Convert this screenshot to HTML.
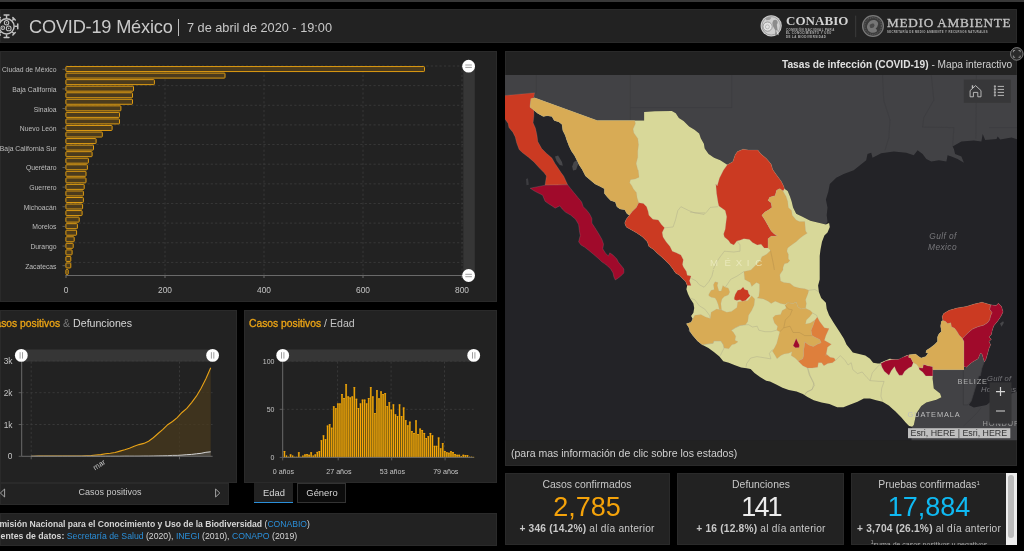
<!DOCTYPE html>
<html><head><meta charset="utf-8"><title>COVID-19 México</title>
<style>
*{box-sizing:border-box;margin:0;padding:0}
html,body{width:1024px;height:551px;background:#000;overflow:hidden;font-family:"Liberation Sans", sans-serif;color:#ccc}
.abs{position:absolute}
.panel{position:absolute;background:#222222;border:1px solid #2a2a2a}
svg{position:absolute;left:0;top:0;overflow:visible;will-change:transform}
svg text{font-family:"Liberation Sans", sans-serif}
.t{position:absolute;white-space:nowrap;line-height:1;will-change:transform}
a{color:#2b8fd9;text-decoration:none}
</style></head><body>
<div class="abs" style="left:0;top:0;width:1024px;height:1.9px;background:#383838"></div>
<!-- header -->
<div class="panel" style="left:0;top:9px;width:1017px;height:34px"></div>
<div class="t" id="title" style="left:28.6px;top:18.2px;font-size:18.2px;color:#cacaca;letter-spacing:-0.2px">COVID-19 México</div>
<div class="abs" style="left:178px;top:19px;width:1.3px;height:17px;background:#bdbdbd"></div>
<div class="t" id="date" style="left:186.5px;top:22.4px;font-size:12.73px;color:#c8c8c8">7 de abril de 2020 - 19:00</div>
<svg width="1024" height="551" viewBox="0 0 1024 551">
<circle cx="6.55" cy="26.3" r="7.6" fill="none" stroke="#c2c2c2" stroke-width="1.5"/>
<line x1="14.65" y1="26.30" x2="17.75" y2="26.30" stroke="#c2c2c2" stroke-width="1.45"/>
<line x1="17.75" y1="28.70" x2="17.75" y2="23.90" stroke="#c2c2c2" stroke-width="1.5" stroke-linecap="round"/>
<line x1="12.28" y1="32.03" x2="14.05" y2="33.80" stroke="#c2c2c2" stroke-width="1.45"/>
<line x1="12.84" y1="35.00" x2="15.25" y2="32.59" stroke="#c2c2c2" stroke-width="1.5" stroke-linecap="round"/>
<line x1="6.55" y1="34.40" x2="6.55" y2="37.50" stroke="#c2c2c2" stroke-width="1.45"/>
<line x1="4.15" y1="37.50" x2="8.95" y2="37.50" stroke="#c2c2c2" stroke-width="1.5" stroke-linecap="round"/>
<line x1="0.82" y1="32.03" x2="-0.95" y2="33.80" stroke="#c2c2c2" stroke-width="1.45"/>
<line x1="-2.15" y1="32.59" x2="0.26" y2="35.00" stroke="#c2c2c2" stroke-width="1.5" stroke-linecap="round"/>
<line x1="-1.55" y1="26.30" x2="-4.65" y2="26.30" stroke="#c2c2c2" stroke-width="1.45"/>
<line x1="-4.65" y1="23.90" x2="-4.65" y2="28.70" stroke="#c2c2c2" stroke-width="1.5" stroke-linecap="round"/>
<line x1="0.82" y1="20.57" x2="-0.95" y2="18.80" stroke="#c2c2c2" stroke-width="1.45"/>
<line x1="0.26" y1="17.60" x2="-2.15" y2="20.01" stroke="#c2c2c2" stroke-width="1.5" stroke-linecap="round"/>
<line x1="6.55" y1="18.20" x2="6.55" y2="15.10" stroke="#c2c2c2" stroke-width="1.45"/>
<line x1="8.95" y1="15.10" x2="4.15" y2="15.10" stroke="#c2c2c2" stroke-width="1.5" stroke-linecap="round"/>
<line x1="12.28" y1="20.57" x2="14.05" y2="18.80" stroke="#c2c2c2" stroke-width="1.45"/>
<line x1="15.25" y1="20.01" x2="12.84" y2="17.60" stroke="#c2c2c2" stroke-width="1.5" stroke-linecap="round"/>
<circle cx="6.55" cy="22.8" r="2.2" fill="none" stroke="#c2c2c2" stroke-width="1.05"/><circle cx="6.55" cy="22.8" r="0.7" fill="#aaa"/>
<circle cx="8.7" cy="28.4" r="2.4" fill="none" stroke="#c2c2c2" stroke-width="1.05"/><circle cx="8.7" cy="28.4" r="0.8" fill="#aaa"/>
<circle cx="2.8" cy="27.7" r="1.8" fill="none" stroke="#c2c2c2" stroke-width="1.05"/><circle cx="2.8" cy="27.7" r="0.6" fill="#aaa"/>
<circle cx="771.2" cy="25.8" r="10.6" fill="#cfcfcf"/>
<circle cx="771.2" cy="25.8" r="9.2" fill="none" stroke="#8d8d8d" stroke-width="0.7"/>
<circle cx="767.6" cy="26.6" r="4.6" fill="#e3e3e3" stroke="#8a8a8a" stroke-width="0.8"/>
<circle cx="767.4" cy="26.8" r="2" fill="none" stroke="#9a9a9a" stroke-width="0.6"/>
<path d="M773.2,20.4 q2.6,-1.6 4.2,0.6 q0.9,2.2 -0.6,3.6 l0.8,5.6 l-1.2,5.2 l-1.4,0.2 l0.4,-5 l-2.4,-4.4 q-1.6,-3.2 0.2,-5.8z" fill="#8c8c8c"/>
<path d="M765.5,18.3 l3.2,-1.4 l2.8,0.6 l-1.6,2.2 l-3.4,0.6z" fill="#999"/>
<path d="M776.6,30.5 l1.6,4.6" stroke="#e8e8e8" stroke-width="0.9"/>
<line x1="855.7" y1="15.6" x2="855.7" y2="37.2" stroke="#3c3c3c" stroke-width="1"/>
<circle cx="873" cy="26" r="10.4" fill="#3a3a3a" stroke="#7a7a7a" stroke-width="1.3"/>
<circle cx="873" cy="26" r="8.4" fill="none" stroke="#5a5a5a" stroke-width="1.2" stroke-dasharray="1.1,0.8"/>
<path d="M868,23.5 q2.4,-4 6.6,-3.4 q3.4,0.8 3.6,4 q-0.4,3 -2.6,4.4 q1.8,1.2 1.4,2.8 q-2.8,2.2 -6.2,1.2 q-3.2,-1.4 -3.8,-4.4 q-0.2,-2.6 1,-4.6z" fill="#767676"/>
<path d="M869.6,25 q2,-2.2 4.4,-1.2 q1.2,1.8 -0.2,3.4 q-2,1.4 -3.8,0.2z" fill="#4a4a4a"/>
</svg>
<div class="t" id="conabio" style="left:785.6px;top:13.6px;font-family:'Liberation Serif', serif;font-weight:bold;font-size:13px;color:#d2d2d2;letter-spacing:0.06px">CONABIO</div>
<div class="t" style="left:785.8px;top:29.1px;font-size:2.9px;font-weight:bold;color:#b5b5b5;letter-spacing:0.42px">COMISIÓN NACIONAL PARA</div>
<div class="t" style="left:785.8px;top:32.300000000000004px;font-size:2.9px;font-weight:bold;color:#b5b5b5;letter-spacing:0.42px">EL CONOCIMIENTO Y USO</div>
<div class="t" style="left:785.8px;top:35.5px;font-size:2.9px;font-weight:bold;color:#b5b5b5;letter-spacing:0.42px">DE LA BIODIVERSIDAD</div>
<div class="t" id="medio" style="left:886.8px;top:15.9px;font-family:'Liberation Serif', serif;font-size:13.2px;color:#c4c4c4;letter-spacing:0.75px;-webkit-text-stroke:0.3px #c4c4c4">MEDIO AMBIENTE</div>
<div class="t" id="medsub" style="left:887px;top:32.4px;font-size:2.75px;font-weight:bold;color:#b0b0b0;letter-spacing:0.36px">SECRETARÍA DE MEDIO AMBIENTE Y RECURSOS NATURALES</div>
<!-- bar panel -->
<div class="panel" style="left:0;top:51px;width:497px;height:251px"></div>
<!-- line panel -->
<div class="panel" style="left:0;top:310px;width:237px;height:173px"></div>
<div class="panel" style="left:0;top:483px;width:228.5px;height:22.3px"></div>
<!-- age panel -->
<div class="panel" style="left:244px;top:310px;width:253.4px;height:172.5px"></div>
<!-- footer panel -->
<div class="panel" style="left:0;top:513px;width:497px;height:32.6px"></div>
<!-- map panel -->
<div class="panel" style="left:505px;top:51px;width:512px;height:414.7px"></div>
<!-- cards -->
<div class="panel" style="left:504.6px;top:473.2px;width:165.3px;height:72.2px"></div>
<div class="panel" style="left:677.3px;top:473.2px;width:166.4px;height:72.2px"></div>
<div class="panel" style="left:851.2px;top:473.2px;width:165.8px;height:72.2px"></div>
<svg width="1024" height="551" viewBox="0 0 1024 551">
<defs><clipPath id="mapclip"><rect x="505" y="75" width="512" height="365.3"/></clipPath></defs>
<g clip-path="url(#mapclip)">
<rect x="505" y="75" width="512" height="366" fill="#232327"/>
<path d="M500.0,70.0 L500.0,95.5 L505.0,95.5 L534.7,92.8 L533.9,97.0 L530.8,98.6 L530.8,98.6 L534.7,97.8 L597.2,120.5 L634.7,120.5 L644.1,120.5 L644.1,111.9 L654.7,111.2 L671.9,110.9 L675.8,113.3 L678.9,118.0 L683.6,121.1 L689.1,126.6 L694.5,129.7 L699.2,133.6 L700.8,138.3 L703.9,143.8 L704.7,148.4 L708.6,153.9 L714.1,157.8 L720.3,160.2 L727.3,164.8 L732.8,161.7 L735.2,154.7 L737.5,151.6 L743.0,149.2 L748.4,150.0 L757.8,150.0 L760.9,153.9 L766.4,158.6 L771.1,164.1 L772.7,169.5 L776.6,175.0 L781.2,181.2 L783.6,185.9 L784.5,188.7 L787.7,191.0 L790.0,196.5 L791.6,201.2 L793.1,207.4 L796.2,213.7 L802.5,216.8 L810.3,220.7 L819.7,223.1 L825.9,224.6 L827.5,221.5 L826.7,215.2 L827.5,207.4 L825.9,199.6 L828.3,191.8 L829.8,184.0 L832.4,181.5 L836.2,177.7 L843.7,173.9 L853.7,170.2 L866.2,160.2 L867.5,153.9 L871.2,152.7 L872.5,157.7 L881.2,153.2 L893.8,151.4 L906.3,152.7 L913.8,155.2 L917.6,150.2 L922.6,153.9 L926.3,158.9 L931.3,161.4 L938.9,160.2 L946.4,161.4 L947.6,155.2 L951.4,156.4 L957.6,158.9 L963.9,162.7 L961.4,156.4 L955.1,153.9 L953.9,148.9 L952.6,146.4 L961.4,141.4 L973.9,140.6 L981.4,141.4 L982.7,133.9 L985.2,140.1 L996.5,138.9 L997.7,136.4 L1000.2,139.6 L1011.5,137.6 L1021.5,140.6 L1021.5,70.0Z" fill="#424245" />
<path d="M536.3,75.0 L536.3,93.8" stroke="#3b3b3e" stroke-width="0.6" fill="none"/>
<path d="M630.3,75.0 L630.3,120.6" stroke="#3b3b3e" stroke-width="0.6" fill="none"/>
<path d="M630.3,107.6 L731.7,107.6 L731.7,75.0" stroke="#3b3b3e" stroke-width="0.6" fill="none"/>
<path d="M882.5,75.0 L883.7,100.1 L890.0,120.1 L888.8,137.6 L885.0,150.2" stroke="#3b3b3e" stroke-width="0.6" fill="none"/>
<path d="M931.3,75.0 L933.8,100.1 L923.8,117.6 L922.6,127.1 L953.9,127.6 L952.6,146.4" stroke="#3b3b3e" stroke-width="0.6" fill="none"/>
<path d="M976.4,75.0 L975.9,138.9" stroke="#3b3b3e" stroke-width="0.6" fill="none"/>
<path d="M989.0,127.6 L1017.0,127.6" stroke="#3b3b3e" stroke-width="0.6" fill="none"/>
<path d="M932.8,369.7 L964.0,369.7 L966.4,367.3 L968.7,365.0 L972.6,361.9 L978.1,358.8 L980.4,353.3 L982.0,354.1 L984.3,361.9 L982.0,368.1 L980.4,375.9 L978.9,376.1 L975.2,388.6 L971.4,401.1 L968.9,404.9 L973.9,407.4 L986.5,404.9 L991.5,401.1 L1021.5,389.8 L1021.5,442.4 L911.3,442.4 L912.1,426.7 L913.8,424.9 L916.3,413.6 L921.3,406.1 L926.3,402.4 L936.4,399.8 L941.4,397.3 L940.1,393.6 L933.8,388.6 L932.6,378.6Z" fill="#424245" />
<path d="M964.0,369.7 L966.4,367.3 L968.7,365.0 L972.6,361.9 L978.1,358.8 L980.4,353.3 L982.0,354.1 L984.3,361.9 L982.0,368.1 L980.4,375.9 L978.9,376.1 L975.2,388.6 L971.4,401.1 L967.7,404.9 L963.4,404.9 L963.4,369.0Z" fill="#444447" stroke="#38383b" stroke-width="0.6" stroke-linejoin="round" />
<path d="M963.4,426.2 L976.4,413.6 L981.4,407.4" stroke="#3b3b3e" stroke-width="0.6" fill="none"/>
<path d="M530.8,98.6 L534.7,97.8 L597.2,120.5 L634.7,120.5 L644.1,120.5 L644.1,111.9 L654.7,111.2 L671.9,110.9 L675.8,113.3 L678.9,118.0 L683.6,121.1 L689.1,126.6 L694.5,129.7 L699.2,133.6 L700.8,138.3 L703.9,143.8 L704.7,148.4 L708.6,153.9 L714.1,157.8 L720.3,160.2 L727.3,164.8 L732.8,161.7 L735.2,154.7 L737.5,151.6 L743.0,149.2 L748.4,150.0 L757.8,150.0 L760.9,153.9 L766.4,158.6 L771.1,164.1 L772.7,169.5 L776.6,175.0 L781.2,181.2 L783.6,185.9 L784.5,188.7 L787.7,191.0 L790.0,196.5 L791.6,201.2 L793.1,207.4 L796.2,213.7 L802.5,216.8 L810.3,220.7 L819.7,223.1 L825.9,224.6 L829.1,223.1 L829.8,227.0 L827.5,232.4 L824.4,235.6 L822.0,241.8 L820.5,249.6 L819.7,255.9 L819.7,269.9 L819.7,279.4 L818.1,285.6 L818.9,291.9 L821.2,298.1 L825.9,302.8 L826.7,309.1 L829.1,315.3 L833.8,323.1 L840.0,332.5 L843.9,338.8 L846.6,344.7 L849.7,348.6 L852.8,352.5 L859.1,354.1 L865.3,355.6 L870.0,358.8 L873.1,362.7 L877.8,363.4 L880.9,363.4 L880.4,362.7 L884.3,361.1 L889.8,358.8 L895.3,359.5 L899.2,359.5 L903.1,357.2 L906.2,355.6 L909.3,354.8 L915.6,354.1 L918.7,356.4 L921.1,358.0 L925.8,356.4 L928.1,353.3 L925.8,352.5 L926.5,350.2 L930.4,347.8 L934.3,344.7 L937.5,341.6 L937.5,336.9 L939.0,333.8 L941.4,331.4 L940.6,325.9 L941.4,321.2 L942.9,320.5 L942.2,316.6 L943.7,313.4 L949.2,310.3 L957.0,308.0 L966.4,306.4 L974.2,304.1 L982.0,302.2 L990.6,304.8 L996.1,305.6 L998.4,303.3 L1001.5,306.4 L1003.1,311.9 L1000.8,316.6 L997.6,321.2 L993.7,325.9 L992.2,330.6 L991.4,334.5 L989.0,336.9 L991.4,339.2 L989.0,341.6 L990.6,344.7 L989.0,348.6 L987.5,354.1 L985.9,359.5 L984.3,361.9 L982.0,354.1 L980.4,353.3 L978.1,358.8 L972.6,361.9 L968.7,365.0 L966.4,367.3 L964.0,366.6 L964.0,369.7 L932.8,369.7 L932.8,375.9 L932.6,378.6 L933.8,388.6 L940.1,393.6 L941.4,397.3 L936.4,399.8 L926.3,402.4 L921.3,406.1 L916.3,413.6 L913.8,424.9 L912.1,426.7 L909.1,425.9 L905.9,422.8 L901.2,417.3 L895.0,411.1 L888.8,405.6 L882.5,401.7 L876.2,400.2 L870.0,398.6 L863.8,398.6 L857.5,401.7 L849.7,404.8 L843.4,407.2 L837.2,407.2 L829.4,404.1 L821.6,402.5 L813.8,400.2 L807.5,397.0 L802.8,393.9 L796.6,391.6 L788.8,390.0 L782.5,387.7 L776.2,384.5 L770.0,381.4 L766.2,380.8 L760.0,376.9 L754.5,373.0 L750.6,369.1 L746.7,368.3 L741.2,367.5 L735.0,365.2 L728.8,362.8 L723.3,361.2 L719.4,356.6 L713.9,351.9 L708.4,348.0 L702.2,344.8 L697.5,340.9 L692.8,335.5 L688.9,330.0 L690.3,332.3 L688.8,327.6 L686.4,323.7 L691.1,322.2 L692.7,319.0 L691.1,315.9 L693.4,312.8 L694.2,308.1 L693.4,303.4 L690.3,298.7 L688.0,294.0 L686.4,289.3 L687.2,285.4 L685.6,281.5 L682.5,278.4 L679.4,275.3 L675.5,272.9 L672.3,268.2 L669.2,264.3 L666.9,262.0 L665.3,260.6 L661.4,256.7 L656.7,252.8 L653.6,249.6 L648.9,246.5 L647.3,241.8 L642.7,237.1 L637.2,233.2 L633.3,230.9 L630.2,229.3 L626.2,227.0 L624.7,223.1 L626.2,219.2 L629.4,215.2 L627.0,213.7 L624.7,209.8 L620.0,209.0 L616.9,206.7 L615.3,202.0 L610.6,200.4 L607.5,197.3 L604.4,193.4 L604.4,188.7 L599.7,186.3 L595.0,184.0 L585.5,175.9 L582.3,169.7 L579.2,165.0 L576.9,160.3 L574.5,155.6 L571.4,150.9 L569.1,146.2 L566.7,140.0 L565.2,135.3 L562.8,130.6 L562.0,124.4 L558.9,122.0 L554.2,120.5 L551.9,116.6 L547.2,115.8 L543.3,116.6 L537.8,113.4 L533.9,110.3 L530.0,107.2Z" fill="#d8d899" />
<path d="M690.0,212.1 L696.2,212.9 L704.1,214.5 L707.2,211.3 L710.3,207.4 L718.1,206.7" stroke="#a9a78a" stroke-width="0.55" fill="none" stroke-opacity="0.75"/>
<path d="M664.5,227.8 L673.1,227.0 L675.5,219.9 L677.8,210.6 L680.9,206.7 L688.8,210.6 L695.0,212.9 L705.0,212.9" stroke="#a9a78a" stroke-width="0.55" fill="none" stroke-opacity="0.75"/>
<path d="M736.9,241.0 L740.0,244.9 L740.0,251.2 L733.8,252.0 L724.4,251.2 L719.7,257.4 L716.6,262.1 L713.4,269.2" stroke="#a9a78a" stroke-width="0.55" fill="none" stroke-opacity="0.75"/>
<path d="M713.4,270.0 L711.9,276.2 L708.8,281.7 L704.1,287.2 L699.4,284.8 L696.2,280.9 L691.6,278.6" stroke="#a9a78a" stroke-width="0.55" fill="none" stroke-opacity="0.75"/>
<path d="M710.3,318.4 L709.5,315.3 L704.8,309.1 L699.4,305.9 L694.7,299.7 L690.0,298.1" stroke="#a9a78a" stroke-width="0.55" fill="none" stroke-opacity="0.75"/>
<path d="M743.9,271.6 L736.9,276.2 L730.6,279.4 L727.5,284.1 L725.2,287.2" stroke="#a9a78a" stroke-width="0.55" fill="none" stroke-opacity="0.75"/>
<path d="M807.5,368.1 L809.1,374.4 L812.2,380.6 L814.5,385.3 L811.4,390.0 L806.7,392.3 L805.2,394.7" stroke="#a9a78a" stroke-width="0.55" fill="none" stroke-opacity="0.75"/>
<path d="M835.6,360.3 L840.3,355.6 L845.0,360.3 L848.1,365.0 L851.2,362.7 L852.8,369.7 L857.5,373.6 L862.2,372.0 L866.9,377.5 L870.0,380.6 L879.4,381.4 L884.1,381.4 L881.7,388.4 L880.9,396.2 L882.5,400.9" stroke="#a9a78a" stroke-width="0.55" fill="none" stroke-opacity="0.75"/>
<path d="M870.0,380.6 L872.3,372.8 L876.2,368.1 L879.4,365.0 L881.7,365.8" stroke="#a9a78a" stroke-width="0.55" fill="none" stroke-opacity="0.75"/>
<path d="M745.9,367.5 L746.7,363.6 L750.6,358.1 L756.9,356.6 L766.2,358.1 L770.9,358.9 L769.4,353.4 L772.5,349.5" stroke="#a9a78a" stroke-width="0.55" fill="none" stroke-opacity="0.75"/>
<path d="M807.7,367.5 L810.0,375.3 L813.9,383.1 L812.3,389.4 L806.9,391.7 L804.5,394.8" stroke="#a9a78a" stroke-width="0.55" fill="none" stroke-opacity="0.75"/>
<path d="M702.2,344.8 L706.9,344.1 L713.1,343.3 L713.9,340.9 L720.9,340.9 L723.3,344.8 L724.1,348.0 L722.5,351.1 L720.2,355.8" stroke="#a9a78a" stroke-width="0.55" fill="none" stroke-opacity="0.75"/>
<path d="M731.4,330.2 L735.3,327.8 L740.0,325.5 L745.5,324.7 L748.6,324.7 L752.5,327.0 L757.2,326.2 L758.8,330.2 L765.0,331.7 L771.2,331.7 L776.7,330.2" stroke="#a9a78a" stroke-width="0.55" fill="none" stroke-opacity="0.75"/>
<path d="M808.8,290.3 L815.0,289.5 L818.9,291.9" stroke="#a9a78a" stroke-width="0.55" fill="none" stroke-opacity="0.75"/>
<path d="M812.7,313.0 L816.6,315.3 L817.3,316.9" stroke="#a9a78a" stroke-width="0.55" fill="none" stroke-opacity="0.75"/>
<path d="M500.0,95.5 L505.0,95.5 L534.7,92.8 L533.9,97.0 L530.8,100.9 L530.0,107.2 L533.9,110.3 L533.9,115.8 L533.1,122.8 L535.5,128.3 L537.0,135.3 L537.8,141.6 L541.7,148.6 L546.4,153.3 L551.9,158.0 L555.0,163.4 L558.1,168.1 L561.2,172.8 L563.6,175.9 L567.7,184.8 L545.0,185.2 L546.4,175.9 L544.1,172.8 L539.4,168.1 L533.9,161.9 L528.4,157.2 L522.2,152.5 L519.1,149.4 L516.7,143.1 L515.2,136.9 L512.8,132.2 L508.9,127.5 L508.1,123.6 L505.0,118.9 L500.0,118.0Z" fill="#cb3a22" stroke="#aab0b0" stroke-opacity="0.38" stroke-width="0.5" stroke-linejoin="round" />
<path d="M545.0,185.2 L567.7,184.8 L570.8,188.7 L573.9,192.6 L577.8,197.3 L581.7,202.0 L583.3,206.7 L586.4,209.8 L589.5,213.7 L591.9,218.4 L591.9,223.1 L595.0,227.8 L598.9,234.0 L602.0,239.5 L603.6,244.2 L602.8,248.8 L605.2,252.8 L608.3,255.9 L609.8,252.8 L613.0,255.1 L616.9,259.0 L618.4,262.1 L621.6,266.0 L621.6,265.9 L623.9,269.0 L623.9,272.9 L620.8,276.1 L617.7,278.4 L615.3,280.0 L613.8,276.8 L613.0,272.9 L610.6,269.0 L607.5,265.9 L604.4,263.6 L602.0,262.0 L598.9,259.0 L593.4,254.3 L588.8,250.4 L584.8,247.3 L580.9,244.9 L578.6,241.8 L580.2,235.6 L579.4,230.9 L578.6,224.6 L575.5,219.2 L570.8,215.2 L565.3,212.1 L562.2,209.0 L559.8,205.9 L555.2,208.2 L552.0,205.9 L548.1,203.5 L545.0,201.2 L542.6,195.2 L535.1,191.5 L530.1,188.2Z" fill="#a00a2b" stroke="#aab0b0" stroke-opacity="0.38" stroke-width="0.5" stroke-linejoin="round" />
<path d="M555.0,156.4 L558.1,155.6 L562.0,161.9 L562.8,165.8 L559.7,165.0 L556.6,161.1Z" fill="#47474a" />
<path d="M573.8,161.9 L576.9,160.3 L578.1,164.2 L576.1,169.7 L573.0,170.5 L572.2,166.6Z" fill="#47474a" />
<path d="M526.0,179.0 L528.0,178.2 L528.8,184.7 L526.5,185.2Z" fill="#3c3c40" />
<path d="M530.8,98.6 L534.7,97.8 L597.2,120.5 L634.7,120.5 L635.5,123.6 L633.1,129.1 L633.9,133.0 L637.8,138.4 L638.6,144.7 L637.8,150.9 L637.8,157.2 L636.2,163.4 L637.8,169.7 L638.3,170.3 L639.1,177.3 L635.2,178.9 L630.5,179.7 L629.7,182.8 L632.0,185.9 L633.3,188.7 L636.4,192.6 L637.2,198.1 L638.8,202.8 L636.4,207.4 L632.5,211.3 L629.4,215.2 L627.0,213.7 L624.7,209.8 L620.0,209.0 L616.9,206.7 L615.3,202.0 L610.6,200.4 L607.5,197.3 L604.4,193.4 L604.4,188.7 L599.7,186.3 L595.0,184.0 L585.5,175.9 L582.3,169.7 L579.2,165.0 L576.9,160.3 L574.5,155.6 L571.4,150.9 L569.1,146.2 L566.7,140.0 L565.2,135.3 L562.8,130.6 L562.0,124.4 L558.9,122.0 L554.2,120.5 L551.9,116.6 L547.2,115.8 L543.3,116.6 L537.8,113.4 L533.9,110.3 L530.0,107.2Z" fill="#d8ab55" stroke="#aab0b0" stroke-opacity="0.38" stroke-width="0.5" stroke-linejoin="round" />
<path d="M638.8,202.8 L643.4,203.5 L646.6,206.7 L648.1,211.3 L648.9,215.2 L652.8,219.2 L658.3,219.9 L661.4,224.6 L664.5,227.8 L662.2,232.4 L663.0,237.1 L666.1,241.8 L670.0,246.5 L672.3,251.2 L676.2,252.8 L680.9,255.1 L683.3,259.8 L682.5,264.5 L683.3,266.7 L686.4,271.4 L687.2,275.3 L691.1,276.1 L689.5,280.8 L691.1,285.4 L687.2,285.4 L685.6,281.5 L682.5,278.4 L679.4,275.3 L675.5,272.9 L672.3,268.2 L669.2,264.3 L666.9,262.0 L665.3,260.6 L661.4,256.7 L656.7,252.8 L653.6,249.6 L648.9,246.5 L647.3,241.8 L642.7,237.1 L637.2,233.2 L633.3,230.9 L630.2,229.3 L626.2,227.0 L624.7,223.1 L626.2,219.2 L629.4,215.2 L632.5,211.3 L636.4,207.4Z" fill="#cb3a22" stroke="#aab0b0" stroke-opacity="0.38" stroke-width="0.5" stroke-linejoin="round" />
<path d="M727.3,164.8 L732.8,161.7 L735.2,154.7 L737.5,151.6 L743.0,149.2 L748.4,150.0 L757.8,150.0 L760.9,153.9 L766.4,158.6 L771.1,164.1 L772.7,169.5 L776.6,175.0 L781.2,181.2 L783.6,185.9 L784.5,188.7 L783.0,191.0 L779.8,188.7 L776.7,190.2 L775.2,195.7 L769.7,197.3 L768.1,200.4 L771.2,202.8 L772.0,207.4 L768.9,209.8 L765.0,212.1 L761.9,215.2 L765.0,219.9 L768.1,225.4 L771.2,230.9 L774.4,234.0 L777.5,235.6 L774.4,236.3 L771.2,236.3 L768.1,238.7 L768.1,248.1 L764.2,248.1 L761.1,244.2 L757.2,244.9 L752.5,242.6 L749.4,239.5 L743.9,238.7 L740.0,240.2 L736.9,241.0 L733.8,244.9 L730.6,243.4 L728.3,240.2 L724.4,237.1 L723.6,234.0 L725.2,229.3 L725.9,223.1 L726.7,216.8 L725.2,210.6 L718.9,205.9 L718.1,202.8 L716.6,193.4 L715.8,184.0 L717.2,185.9 L719.5,178.1 L723.4,170.3Z" fill="#cb3a22" stroke="#aab0b0" stroke-opacity="0.38" stroke-width="0.5" stroke-linejoin="round" />
<path d="M776.7,190.2 L779.8,188.7 L783.0,191.0 L786.1,196.5 L787.7,201.2 L788.4,207.4 L791.6,210.6 L792.3,215.2 L796.2,219.9 L799.4,221.5 L804.8,221.5 L805.6,230.9 L807.2,233.2 L802.5,236.3 L799.4,238.7 L796.2,241.8 L791.6,244.9 L787.7,248.1 L786.9,251.2 L788.4,254.3 L788.4,259.0 L790.0,260.6 L787.7,262.9 L784.5,263.7 L783.0,267.6 L783.0,269.9 L779.8,274.7 L780.6,280.9 L783.8,282.5 L790.0,283.3 L793.9,286.4 L799.4,288.0 L804.8,288.8 L808.8,290.3 L808.0,293.4 L805.6,299.7 L806.4,303.6 L805.6,308.3 L800.9,309.1 L797.8,306.7 L796.2,302.0 L793.1,303.6 L787.7,302.8 L785.3,304.4 L780.6,303.6 L775.2,301.2 L771.2,303.6 L768.1,301.2 L763.4,298.9 L757.2,298.1 L758.8,296.6 L759.5,290.3 L759.5,284.1 L756.4,282.5 L751.7,286.4 L750.2,282.5 L744.7,279.4 L743.9,271.6 L750.9,269.9 L755.6,265.2 L760.3,260.6 L761.9,256.7 L766.6,254.3 L770.5,250.4 L768.1,248.1 L768.1,238.7 L771.2,236.3 L774.4,236.3 L777.5,235.6 L774.4,234.0 L771.2,230.9 L768.1,225.4 L765.0,219.9 L761.9,215.2 L765.0,212.1 L768.9,209.8 L772.0,207.4 L771.2,202.8 L768.1,200.4 L769.7,197.3 L775.2,195.7Z" fill="#d8ab55" stroke="#aab0b0" stroke-opacity="0.38" stroke-width="0.5" stroke-linejoin="round" />
<path d="M770.5,250.4 L772.0,257.4 L773.6,265.2 L774.4,269.9" stroke="#b08d4a" stroke-width="0.55" fill="none" stroke-opacity="0.8"/>
<path d="M772.8,317.7 L775.2,315.3 L780.6,314.5 L782.2,310.6 L786.1,308.3 L785.3,305.2 L787.7,302.8 L793.1,303.6 L796.2,302.0 L797.8,306.7 L800.9,309.1 L805.6,308.3 L810.3,310.6 L812.7,313.0 L809.5,316.9 L806.4,320.0 L805.6,323.9 L810.3,323.1 L815.0,320.0 L813.4,324.7 L811.1,330.2 L811.9,335.6 L815.0,337.2 L819.7,339.5 L821.2,342.7 L817.3,344.2 L813.4,346.6 L808.8,345.0 L804.8,341.9 L804.1,348.1 L803.6,349.4 L803.6,355.6 L802.8,358.8 L798.1,361.1 L795.0,358.0 L791.1,355.6 L791.9,351.7 L788.8,353.3 L784.1,354.1 L780.9,355.6 L777.0,358.8 L774.7,354.8 L772.3,350.9 L774.4,348.1 L776.7,343.4 L778.3,337.2 L779.8,331.7 L776.7,330.2 L777.5,326.2 L774.4,323.1Z" fill="#d8ab55" stroke="#aab0b0" stroke-opacity="0.38" stroke-width="0.5" stroke-linejoin="round" />
<path d="M779.8,331.7 L783.8,327.8 L790.0,326.2 L793.1,332.5 L799.4,332.5 L804.8,335.6 L811.9,335.6" stroke="#b08d4a" stroke-width="0.55" fill="none" stroke-opacity="0.8"/>
<path d="M785.3,305.2 L788.4,309.1 L792.3,309.8 L790.0,315.3 L785.3,320.0 L783.8,327.8" stroke="#b08d4a" stroke-width="0.55" fill="none" stroke-opacity="0.8"/>
<path d="M817.3,316.9 L819.7,321.6 L824.4,327.8 L829.1,328.6 L825.9,335.6 L824.4,340.3 L831.4,344.2 L827.5,347.3 L825.9,355.9 L826.2,354.1 L830.2,357.2 L834.1,358.0 L835.6,360.3 L832.5,362.7 L827.8,363.4 L823.9,365.8 L821.6,362.7 L818.4,362.7 L817.7,367.3 L812.2,368.1 L807.5,368.1 L802.8,365.8 L800.5,363.4 L798.1,361.1 L802.8,358.8 L803.6,355.6 L803.6,349.4 L804.1,348.1 L804.8,341.9 L808.8,345.0 L813.4,346.6 L817.3,344.2 L821.2,342.7 L819.7,339.5 L815.0,337.2 L811.9,335.6 L811.1,330.2 L813.4,324.7 L815.0,320.0Z" fill="#de7f3c" stroke="#aab0b0" stroke-opacity="0.38" stroke-width="0.5" stroke-linejoin="round" />
<path d="M793.1,345.8 L794.7,341.9 L796.2,338.4 L797.8,341.9 L799.4,345.0 L799.1,347.5 L795.5,347.7Z" fill="#a00a2b" stroke="#aab0b0" stroke-opacity="0.38" stroke-width="0.5" stroke-linejoin="round" />
<path d="M686.4,323.7 L691.1,322.2 L692.7,319.0 L694.7,315.3 L700.9,314.5 L705.6,316.9 L710.3,318.4 L711.1,312.2 L716.6,309.1 L721.2,309.8 L726.7,312.2 L731.4,311.4 L736.9,307.5 L737.7,302.0 L741.6,301.2 L747.8,300.5 L751.7,295.8 L754.8,298.9 L754.1,305.2 L751.7,310.6 L748.6,315.3 L747.8,321.6 L745.5,324.7 L740.0,325.5 L735.3,327.8 L731.4,330.2 L733.4,332.3 L735.8,336.2 L735.0,340.2 L738.1,341.7 L735.0,344.1 L731.9,344.8 L728.8,348.8 L724.1,348.0 L723.3,344.8 L720.9,340.9 L713.9,340.9 L713.1,343.3 L706.9,344.1 L702.2,344.8 L697.5,340.9 L692.8,335.5 L688.9,330.0 L690.3,332.3 L688.8,327.6 L686.4,323.7Z" fill="#d8ab55" stroke="#aab0b0" stroke-opacity="0.38" stroke-width="0.5" stroke-linejoin="round" />
<path d="M708.8,294.2 L711.1,290.3 L714.2,289.5 L713.4,284.8 L715.0,281.7 L718.1,282.5 L717.3,285.6 L718.9,291.1 L721.2,291.1 L722.8,285.6 L725.2,287.2 L728.3,288.0 L729.8,291.9 L728.3,295.0 L724.4,296.6 L722.0,298.9 L720.9,303.6 L721.6,309.8 L719.4,309.8 L718.1,304.4 L716.6,300.5 L715.0,298.1 L711.1,297.3 L708.8,295.8Z" fill="#d8ab55" stroke="#aab0b0" stroke-opacity="0.38" stroke-width="0.5" stroke-linejoin="round" />
<path d="M734.2,298.1 L735.3,294.2 L737.7,290.3 L740.8,289.5 L743.1,286.9 L744.7,289.5 L747.8,290.3 L748.6,293.4 L750.2,295.8 L747.8,298.1 L745.5,300.5 L742.3,301.2 L740.0,299.7 L736.9,300.5 L734.5,299.7Z" fill="#cb3a22" stroke="#aab0b0" stroke-opacity="0.38" stroke-width="0.5" stroke-linejoin="round" />
<path d="M880.9,363.4 L885.6,361.1 L891.9,359.5 L898.1,359.5 L902.8,357.2 L907.5,355.6 L909.3,354.8 L908.6,357.2 L910.9,358.0 L913.2,362.7 L911.7,366.6 L908.6,368.1 L904.7,371.2 L902.3,375.2 L899.2,375.2 L896.1,370.5 L894.5,366.6 L891.4,370.5 L889.0,375.2 L884.3,371.2 L882.0,367.3Z" fill="#a00a2b" stroke="#aab0b0" stroke-opacity="0.38" stroke-width="0.5" stroke-linejoin="round" />
<path d="M918.7,367.3 L922.6,368.1 L923.4,364.2 L928.1,365.8 L932.8,366.6 L932.8,375.9 L925.8,375.9 L922.6,372.0 L919.5,369.7Z" fill="#a00a2b" stroke="#aab0b0" stroke-opacity="0.38" stroke-width="0.5" stroke-linejoin="round" />
<path d="M909.3,354.8 L915.6,354.1 L918.7,356.4 L921.1,358.0 L925.8,356.4 L928.1,353.3 L925.8,352.5 L926.5,350.2 L930.4,347.8 L934.3,344.7 L937.5,341.6 L937.5,336.9 L939.0,333.8 L941.4,331.4 L940.6,325.9 L941.4,321.2 L942.9,320.5 L945.3,321.2 L947.6,323.6 L950.8,322.8 L951.5,326.7 L954.7,328.3 L957.0,331.4 L959.3,335.3 L962.5,338.4 L964.0,341.6 L964.0,369.7 L932.8,369.7 L932.8,366.6 L928.1,365.8 L923.4,364.2 L922.6,368.1 L918.7,367.3 L916.4,364.2 L913.2,362.7 L910.9,358.0 L908.6,357.2Z" fill="#d8ab55" stroke="#aab0b0" stroke-opacity="0.38" stroke-width="0.5" stroke-linejoin="round" />
<path d="M942.9,320.5 L942.2,316.6 L943.7,313.4 L949.2,310.3 L957.0,308.0 L966.4,306.4 L974.2,304.1 L982.0,302.2 L990.6,304.8 L989.8,309.5 L992.2,312.7 L990.6,315.8 L989.8,319.7 L987.5,322.8 L983.6,325.2 L978.1,326.7 L972.6,329.1 L968.7,332.2 L964.8,336.1 L962.5,338.4 L959.3,335.3 L957.0,331.4 L954.7,328.3 L951.5,326.7 L950.8,322.8 L947.6,323.6 L945.3,321.2Z" fill="#cb3a22" stroke="#aab0b0" stroke-opacity="0.38" stroke-width="0.5" stroke-linejoin="round" />
<path d="M990.6,304.8 L996.1,305.6 L998.4,303.3 L1001.5,306.4 L1003.1,311.9 L1000.8,316.6 L997.6,321.2 L993.7,325.9 L992.2,330.6 L991.4,334.5 L989.0,336.9 L991.4,339.2 L989.0,341.6 L990.6,344.7 L989.0,348.6 L987.5,354.1 L985.9,359.5 L984.3,361.9 L982.0,354.1 L980.4,353.3 L978.1,358.8 L972.6,361.9 L968.7,365.0 L966.4,367.3 L964.0,366.6 L964.0,341.6 L962.5,338.4 L964.8,336.1 L968.7,332.2 L972.6,329.1 L978.1,326.7 L983.6,325.2 L987.5,322.8 L989.8,319.7 L990.6,315.8 L992.2,312.7 L989.8,309.5Z" fill="#a00a2b" stroke="#aab0b0" stroke-opacity="0.38" stroke-width="0.5" stroke-linejoin="round" />
<path d="M1000.0,323.6 L1003.1,321.2 L1003.9,322.8 L1001.5,326.7Z" fill="#47474a" />
<text x="943" y="238.5" font-size="8.4" font-style="italic" fill="#77777b" text-anchor="middle" letter-spacing="0.4">Gulf of</text>
<text x="942.5" y="249.5" font-size="8.4" font-style="italic" fill="#77777b" text-anchor="middle" letter-spacing="0.4">Mexico</text>
<text x="713.9" y="266.4" font-size="9.6" fill="#efedc4" fill-opacity="0.75" text-anchor="middle">M</text>
<text x="727.6" y="266.4" font-size="9.6" fill="#efedc4" fill-opacity="0.75" text-anchor="middle">É</text>
<text x="738.9" y="266.4" font-size="9.6" fill="#efedc4" fill-opacity="0.75" text-anchor="middle">X</text>
<text x="748.2" y="266.4" font-size="9.6" fill="#efedc4" fill-opacity="0.75" text-anchor="middle">I</text>
<text x="758.6" y="266.4" font-size="9.6" fill="#efedc4" fill-opacity="0.75" text-anchor="middle">C</text>
<text x="957.5" y="384" font-size="7.4" fill="#b0b0b0" letter-spacing="0.8">BELIZE</text>
<text x="907.5" y="417" font-size="7.4" fill="#bdbdbd" letter-spacing="0.9">GUATEMALA</text>
<text x="982.5" y="426" font-size="7.4" fill="#9a9a9a" letter-spacing="0.9">HONDURAS</text>
<text x="987" y="380.5" font-size="7.6" font-style="italic" fill="#77777b" letter-spacing="0.3">Gulf of</text>
<text x="981" y="392" font-size="7.6" font-style="italic" fill="#77777b" letter-spacing="0.3">Honduras</text>
</g>
<rect x="963.8" y="79.6" width="47" height="23.2" fill="#373739"/>
<path d="M970.1,90.6 L975.6,85.6 L981,90.6 V96.8 H977.8 V92.4 H973.4 V96.8 H970.1 Z" fill="none" stroke="#c4c4c4" stroke-width="0.9" stroke-linejoin="miter"/>
<rect x="971.8" y="85.3" width="1.4" height="2.8" fill="#bdbdbd"/>
<rect x="993.9" y="85.60000000000001" width="1.9" height="1.6" fill="#c4c4c4"/><line x1="997.7" y1="86.4" x2="1004" y2="86.4" stroke="#c4c4c4" stroke-width="0.9"/>
<rect x="993.9" y="88.60000000000001" width="1.9" height="1.6" fill="#c4c4c4"/><line x1="997.7" y1="89.4" x2="1004" y2="89.4" stroke="#c4c4c4" stroke-width="0.9"/>
<rect x="993.9" y="91.60000000000001" width="1.9" height="1.6" fill="#c4c4c4"/><line x1="997.7" y1="92.4" x2="1004" y2="92.4" stroke="#c4c4c4" stroke-width="0.9"/>
<rect x="993.9" y="94.60000000000001" width="1.9" height="1.6" fill="#c4c4c4"/><line x1="997.7" y1="95.4" x2="1004" y2="95.4" stroke="#c4c4c4" stroke-width="0.9"/>
<rect x="994.3" y="85.6" width="1.1" height="10.6" fill="#9a9a9a"/>
<rect x="989.5" y="382.3" width="22" height="41.3" fill="#333335"/>
<path d="M996,391.6 H1005 M1000.5,387.1 V396.1 M996,411 H1005" stroke="#d6d6d6" stroke-width="1.2" fill="none"/>
<rect x="908" y="428.2" width="102.3" height="10" fill="#c6c6c6" fill-opacity="0.95"/>
<text x="910.5" y="436.4" font-size="8.85" fill="#333">Esri, HERE | Esri, HERE</text>
<line x1="65.5" y1="66.00" x2="463" y2="66.00" stroke="#3d3d3d" stroke-width="0.8" stroke-dasharray="2.2,2.2"/>
<line x1="65.5" y1="85.64" x2="463" y2="85.64" stroke="#3d3d3d" stroke-width="0.8" stroke-dasharray="2.2,2.2"/>
<line x1="65.5" y1="105.28" x2="463" y2="105.28" stroke="#3d3d3d" stroke-width="0.8" stroke-dasharray="2.2,2.2"/>
<line x1="65.5" y1="124.92" x2="463" y2="124.92" stroke="#3d3d3d" stroke-width="0.8" stroke-dasharray="2.2,2.2"/>
<line x1="65.5" y1="144.56" x2="463" y2="144.56" stroke="#3d3d3d" stroke-width="0.8" stroke-dasharray="2.2,2.2"/>
<line x1="65.5" y1="164.20" x2="463" y2="164.20" stroke="#3d3d3d" stroke-width="0.8" stroke-dasharray="2.2,2.2"/>
<line x1="65.5" y1="183.84" x2="463" y2="183.84" stroke="#3d3d3d" stroke-width="0.8" stroke-dasharray="2.2,2.2"/>
<line x1="65.5" y1="203.48" x2="463" y2="203.48" stroke="#3d3d3d" stroke-width="0.8" stroke-dasharray="2.2,2.2"/>
<line x1="65.5" y1="223.12" x2="463" y2="223.12" stroke="#3d3d3d" stroke-width="0.8" stroke-dasharray="2.2,2.2"/>
<line x1="65.5" y1="242.77" x2="463" y2="242.77" stroke="#3d3d3d" stroke-width="0.8" stroke-dasharray="2.2,2.2"/>
<line x1="65.5" y1="262.41" x2="463" y2="262.41" stroke="#3d3d3d" stroke-width="0.8" stroke-dasharray="2.2,2.2"/>
<line x1="165.0" y1="66.0" x2="165.0" y2="275.5" stroke="#3d3d3d" stroke-width="0.8" stroke-dasharray="2.2,2.2"/>
<line x1="264.0" y1="66.0" x2="264.0" y2="275.5" stroke="#3d3d3d" stroke-width="0.8" stroke-dasharray="2.2,2.2"/>
<line x1="363.0" y1="66.0" x2="363.0" y2="275.5" stroke="#3d3d3d" stroke-width="0.8" stroke-dasharray="2.2,2.2"/>
<line x1="462.0" y1="66.0" x2="462.0" y2="275.5" stroke="#3d3d3d" stroke-width="0.8" stroke-dasharray="2.2,2.2"/>
<rect x="463.3" y="66" width="11.5" height="209.5" fill="#363636"/>
<line x1="65.5" y1="275.5" x2="463" y2="275.5" stroke="#6a6a6a" stroke-width="1"/>
<line x1="66.0" y1="275.5" x2="66.0" y2="278.0" stroke="#6a6a6a" stroke-width="1"/>
<text x="66.0" y="293.2" font-size="8.4" fill="#c4c4c4" text-anchor="middle">0</text>
<line x1="165.0" y1="275.5" x2="165.0" y2="278.0" stroke="#6a6a6a" stroke-width="1"/>
<text x="165.0" y="293.2" font-size="8.4" fill="#c4c4c4" text-anchor="middle">200</text>
<line x1="264.0" y1="275.5" x2="264.0" y2="278.0" stroke="#6a6a6a" stroke-width="1"/>
<text x="264.0" y="293.2" font-size="8.4" fill="#c4c4c4" text-anchor="middle">400</text>
<line x1="363.0" y1="275.5" x2="363.0" y2="278.0" stroke="#6a6a6a" stroke-width="1"/>
<text x="363.0" y="293.2" font-size="8.4" fill="#c4c4c4" text-anchor="middle">600</text>
<line x1="462.0" y1="275.5" x2="462.0" y2="278.0" stroke="#6a6a6a" stroke-width="1"/>
<text x="462.0" y="293.2" font-size="8.4" fill="#c4c4c4" text-anchor="middle">800</text>
<rect x="65.9" y="66.55" width="358.6" height="5.00" fill="#4b3b1d" stroke="#df9c12" stroke-width="1.0" rx="0.7"/>
<line x1="62.5" y1="69.27" x2="65.5" y2="69.27" stroke="#6a6a6a" stroke-width="0.8"/>
<text x="56.5" y="72.27" font-size="6.8" fill="#bdbdbd" text-anchor="end">Ciudad de México</text>
<rect x="65.9" y="73.10" width="159.1" height="5.00" fill="#4b3b1d" stroke="#df9c12" stroke-width="1.0" rx="0.7"/>
<rect x="65.9" y="79.64" width="88.5" height="5.00" fill="#4b3b1d" stroke="#df9c12" stroke-width="1.0" rx="0.7"/>
<rect x="65.9" y="86.19" width="67.6" height="5.00" fill="#4b3b1d" stroke="#df9c12" stroke-width="1.0" rx="0.7"/>
<line x1="62.5" y1="88.91" x2="65.5" y2="88.91" stroke="#6a6a6a" stroke-width="0.8"/>
<text x="56.5" y="91.91" font-size="6.8" fill="#bdbdbd" text-anchor="end">Baja California</text>
<rect x="65.9" y="92.74" width="66.6" height="5.00" fill="#4b3b1d" stroke="#df9c12" stroke-width="1.0" rx="0.7"/>
<rect x="65.9" y="99.28" width="66.6" height="5.00" fill="#4b3b1d" stroke="#df9c12" stroke-width="1.0" rx="0.7"/>
<rect x="65.9" y="105.83" width="55.0" height="5.00" fill="#4b3b1d" stroke="#df9c12" stroke-width="1.0" rx="0.7"/>
<line x1="62.5" y1="108.55" x2="65.5" y2="108.55" stroke="#6a6a6a" stroke-width="0.8"/>
<text x="56.5" y="111.55" font-size="6.8" fill="#bdbdbd" text-anchor="end">Sinaloa</text>
<rect x="65.9" y="112.38" width="53.6" height="5.00" fill="#4b3b1d" stroke="#df9c12" stroke-width="1.0" rx="0.7"/>
<rect x="65.9" y="118.92" width="53.6" height="5.00" fill="#4b3b1d" stroke="#df9c12" stroke-width="1.0" rx="0.7"/>
<rect x="65.9" y="125.47" width="46.2" height="5.00" fill="#4b3b1d" stroke="#df9c12" stroke-width="1.0" rx="0.7"/>
<line x1="62.5" y1="128.20" x2="65.5" y2="128.20" stroke="#6a6a6a" stroke-width="0.8"/>
<text x="56.5" y="131.20" font-size="6.8" fill="#bdbdbd" text-anchor="end">Nuevo León</text>
<rect x="65.9" y="132.02" width="36.4" height="5.00" fill="#4b3b1d" stroke="#df9c12" stroke-width="1.0" rx="0.7"/>
<rect x="65.9" y="138.57" width="30.2" height="5.00" fill="#4b3b1d" stroke="#df9c12" stroke-width="1.0" rx="0.7"/>
<rect x="65.9" y="145.11" width="27.6" height="5.00" fill="#4b3b1d" stroke="#df9c12" stroke-width="1.0" rx="0.7"/>
<line x1="62.5" y1="147.84" x2="65.5" y2="147.84" stroke="#6a6a6a" stroke-width="0.8"/>
<text x="56.5" y="150.84" font-size="6.8" fill="#bdbdbd" text-anchor="end">Baja California Sur</text>
<rect x="65.9" y="151.66" width="26.2" height="5.00" fill="#4b3b1d" stroke="#df9c12" stroke-width="1.0" rx="0.7"/>
<rect x="65.9" y="158.21" width="22.5" height="5.00" fill="#4b3b1d" stroke="#df9c12" stroke-width="1.0" rx="0.7"/>
<rect x="65.9" y="164.75" width="21.5" height="5.00" fill="#4b3b1d" stroke="#df9c12" stroke-width="1.0" rx="0.7"/>
<line x1="62.5" y1="167.48" x2="65.5" y2="167.48" stroke="#6a6a6a" stroke-width="0.8"/>
<text x="56.5" y="170.48" font-size="6.8" fill="#bdbdbd" text-anchor="end">Querétaro</text>
<rect x="65.9" y="171.30" width="20.1" height="5.00" fill="#4b3b1d" stroke="#df9c12" stroke-width="1.0" rx="0.7"/>
<rect x="65.9" y="177.85" width="20.1" height="5.00" fill="#4b3b1d" stroke="#df9c12" stroke-width="1.0" rx="0.7"/>
<rect x="65.9" y="184.39" width="18.3" height="5.00" fill="#4b3b1d" stroke="#df9c12" stroke-width="1.0" rx="0.7"/>
<line x1="62.5" y1="187.12" x2="65.5" y2="187.12" stroke="#6a6a6a" stroke-width="0.8"/>
<text x="56.5" y="190.12" font-size="6.8" fill="#bdbdbd" text-anchor="end">Guerrero</text>
<rect x="65.9" y="190.94" width="17.5" height="5.00" fill="#4b3b1d" stroke="#df9c12" stroke-width="1.0" rx="0.7"/>
<rect x="65.9" y="197.49" width="17.5" height="5.00" fill="#4b3b1d" stroke="#df9c12" stroke-width="1.0" rx="0.7"/>
<rect x="65.9" y="204.03" width="16.7" height="5.00" fill="#4b3b1d" stroke="#df9c12" stroke-width="1.0" rx="0.7"/>
<line x1="62.5" y1="206.76" x2="65.5" y2="206.76" stroke="#6a6a6a" stroke-width="0.8"/>
<text x="56.5" y="209.76" font-size="6.8" fill="#bdbdbd" text-anchor="end">Michoacán</text>
<rect x="65.9" y="210.58" width="16.2" height="5.00" fill="#4b3b1d" stroke="#df9c12" stroke-width="1.0" rx="0.7"/>
<rect x="65.9" y="217.13" width="13.3" height="5.00" fill="#4b3b1d" stroke="#df9c12" stroke-width="1.0" rx="0.7"/>
<rect x="65.9" y="223.68" width="11.5" height="5.00" fill="#4b3b1d" stroke="#df9c12" stroke-width="1.0" rx="0.7"/>
<line x1="62.5" y1="226.40" x2="65.5" y2="226.40" stroke="#6a6a6a" stroke-width="0.8"/>
<text x="56.5" y="229.40" font-size="6.8" fill="#bdbdbd" text-anchor="end">Morelos</text>
<rect x="65.9" y="230.22" width="10.7" height="5.00" fill="#4b3b1d" stroke="#df9c12" stroke-width="1.0" rx="0.7"/>
<rect x="65.9" y="236.77" width="8.3" height="5.00" fill="#4b3b1d" stroke="#df9c12" stroke-width="1.0" rx="0.7"/>
<rect x="65.9" y="243.32" width="7.3" height="5.00" fill="#4b3b1d" stroke="#df9c12" stroke-width="1.0" rx="0.7"/>
<line x1="62.5" y1="246.04" x2="65.5" y2="246.04" stroke="#6a6a6a" stroke-width="0.8"/>
<text x="56.5" y="249.04" font-size="6.8" fill="#bdbdbd" text-anchor="end">Durango</text>
<rect x="65.9" y="249.86" width="6.2" height="5.00" fill="#4b3b1d" stroke="#df9c12" stroke-width="1.0" rx="0.7"/>
<rect x="65.9" y="256.41" width="4.9" height="5.00" fill="#4b3b1d" stroke="#df9c12" stroke-width="1.0" rx="0.7"/>
<rect x="65.9" y="262.96" width="4.9" height="5.00" fill="#4b3b1d" stroke="#df9c12" stroke-width="1.0" rx="0.7"/>
<line x1="62.5" y1="265.68" x2="65.5" y2="265.68" stroke="#6a6a6a" stroke-width="0.8"/>
<text x="56.5" y="268.68" font-size="6.8" fill="#bdbdbd" text-anchor="end">Zacatecas</text>
<rect x="65.9" y="269.50" width="2.3" height="5.00" fill="#4b3b1d" stroke="#df9c12" stroke-width="1.0" rx="0.7"/>
<circle cx="468.6" cy="66.2" r="6.4" fill="#fff"/>
<line x1="465.3" y1="65.0" x2="471.9" y2="65.0" stroke="#888" stroke-width="0.8"/>
<line x1="465.3" y1="67.4" x2="471.9" y2="67.4" stroke="#888" stroke-width="0.8"/>
<circle cx="468.6" cy="275.5" r="6.4" fill="#fff"/>
<line x1="465.3" y1="274.3" x2="471.9" y2="274.3" stroke="#888" stroke-width="0.8"/>
<line x1="465.3" y1="276.7" x2="471.9" y2="276.7" stroke="#888" stroke-width="0.8"/>
<rect x="21.3" y="349.5" width="191.3" height="12" fill="#363636"/>
<line x1="21.7" y1="424.5" x2="212.6" y2="424.5" stroke="#3d3d3d" stroke-width="0.8" stroke-dasharray="2.2,2.2"/>
<line x1="21.7" y1="392.7" x2="212.6" y2="392.7" stroke="#3d3d3d" stroke-width="0.8" stroke-dasharray="2.2,2.2"/>
<line x1="21.7" y1="360.9" x2="212.6" y2="360.9" stroke="#3d3d3d" stroke-width="0.8" stroke-dasharray="2.2,2.2"/>
<line x1="31.2" y1="361.5" x2="31.2" y2="456.3" stroke="#3d3d3d" stroke-width="0.8" stroke-dasharray="2.2,2.2"/>
<line x1="31.2" y1="456.3" x2="31.2" y2="459.3" stroke="#6a6a6a" stroke-width="0.8"/>
<line x1="179.5" y1="361.5" x2="179.5" y2="456.3" stroke="#3d3d3d" stroke-width="0.8" stroke-dasharray="2.2,2.2"/>
<line x1="179.5" y1="456.3" x2="179.5" y2="459.3" stroke="#6a6a6a" stroke-width="0.8"/>
<path d="M31.2,456.3 L33.8,456.2 L38.6,456.1 L43.4,456.1 L48.2,456.1 L53.0,456.1 L57.7,456.1 L62.5,456.1 L67.3,456.1 L72.1,456.1 L76.9,456.1 L81.6,456.0 L86.4,455.8 L91.2,455.5 L96.0,455.0 L100.8,454.6 L105.5,453.7 L110.3,453.3 L115.1,452.5 L119.9,451.1 L124.7,449.8 L129.4,448.3 L134.2,446.3 L139.0,444.6 L143.8,443.4 L148.6,441.2 L153.3,437.7 L158.1,433.5 L162.9,429.3 L167.7,424.7 L172.5,421.5 L177.2,417.7 L182.0,412.5 L186.8,408.3 L191.6,402.6 L196.4,396.2 L201.1,388.2 L205.9,378.7 L210.7,367.7 L210.7,456.3 L31.2,456.3 Z" fill="#4a3a1c" fill-opacity="0.7"/>
<path d="M31.2,456.3 L33.8,456.2 L38.6,456.1 L43.4,456.1 L48.2,456.1 L53.0,456.1 L57.7,456.1 L62.5,456.1 L67.3,456.1 L72.1,456.1 L76.9,456.1 L81.6,456.0 L86.4,455.8 L91.2,455.5 L96.0,455.0 L100.8,454.6 L105.5,453.7 L110.3,453.3 L115.1,452.5 L119.9,451.1 L124.7,449.8 L129.4,448.3 L134.2,446.3 L139.0,444.6 L143.8,443.4 L148.6,441.2 L153.3,437.7 L158.1,433.5 L162.9,429.3 L167.7,424.7 L172.5,421.5 L177.2,417.7 L182.0,412.5 L186.8,408.3 L191.6,402.6 L196.4,396.2 L201.1,388.2 L205.9,378.7 L210.7,367.7" fill="none" stroke="#e8a317" stroke-width="1.1"/>
<path d="M31.2,456.3 L33.8,456.3 L38.6,456.3 L43.4,456.3 L48.2,456.3 L53.0,456.3 L57.7,456.3 L62.5,456.3 L67.3,456.3 L72.1,456.3 L76.9,456.3 L81.6,456.3 L86.4,456.3 L91.2,456.3 L96.0,456.3 L100.8,456.3 L105.5,456.3 L110.3,456.3 L115.1,456.3 L119.9,456.3 L124.7,456.2 L129.4,456.2 L134.2,456.2 L139.0,456.2 L143.8,456.1 L148.6,456.1 L153.3,456.0 L158.1,455.9 L162.9,455.8 L167.7,455.7 L172.5,455.4 L177.2,455.4 L182.0,455.1 L186.8,454.7 L191.6,454.4 L196.4,453.8 L201.1,453.3 L205.9,452.3 L210.7,451.8 L210.7,456.3 L31.2,456.3 Z" fill="#555" fill-opacity="0.6"/>
<path d="M31.2,456.3 L33.8,456.3 L38.6,456.3 L43.4,456.3 L48.2,456.3 L53.0,456.3 L57.7,456.3 L62.5,456.3 L67.3,456.3 L72.1,456.3 L76.9,456.3 L81.6,456.3 L86.4,456.3 L91.2,456.3 L96.0,456.3 L100.8,456.3 L105.5,456.3 L110.3,456.3 L115.1,456.3 L119.9,456.3 L124.7,456.2 L129.4,456.2 L134.2,456.2 L139.0,456.2 L143.8,456.1 L148.6,456.1 L153.3,456.0 L158.1,455.9 L162.9,455.8 L167.7,455.7 L172.5,455.4 L177.2,455.4 L182.0,455.1 L186.8,454.7 L191.6,454.4 L196.4,453.8 L201.1,453.3 L205.9,452.3 L210.7,451.8" fill="none" stroke="#d8d8d8" stroke-width="1"/>
<line x1="21.7" y1="361.5" x2="21.7" y2="456.3" stroke="#6a6a6a" stroke-width="1"/>
<line x1="21.7" y1="456.3" x2="212.6" y2="456.3" stroke="#6a6a6a" stroke-width="1"/>
<line x1="18.7" y1="456.3" x2="21.7" y2="456.3" stroke="#6a6a6a" stroke-width="0.8"/>
<text x="12.5" y="459.3" font-size="8.4" fill="#c4c4c4" text-anchor="end">0</text>
<line x1="18.7" y1="424.5" x2="21.7" y2="424.5" stroke="#6a6a6a" stroke-width="0.8"/>
<text x="12.5" y="427.5" font-size="8.4" fill="#c4c4c4" text-anchor="end">1k</text>
<line x1="18.7" y1="392.7" x2="21.7" y2="392.7" stroke="#6a6a6a" stroke-width="0.8"/>
<text x="12.5" y="395.7" font-size="8.4" fill="#c4c4c4" text-anchor="end">2k</text>
<line x1="18.7" y1="360.9" x2="21.7" y2="360.9" stroke="#6a6a6a" stroke-width="0.8"/>
<text x="12.5" y="363.9" font-size="8.4" fill="#c4c4c4" text-anchor="end">3k</text>
<text transform="translate(106,463.5) rotate(-32)" font-size="7.6" fill="#c4c4c4" text-anchor="end">mar</text>
<circle cx="21.3" cy="355.4" r="6.4" fill="#fff"/>
<line x1="20.1" y1="352.2" x2="20.1" y2="358.6" stroke="#888" stroke-width="0.8"/>
<line x1="22.5" y1="352.2" x2="22.5" y2="358.6" stroke="#888" stroke-width="0.8"/>
<circle cx="212.6" cy="355.4" r="6.4" fill="#fff"/>
<line x1="211.4" y1="352.2" x2="211.4" y2="358.6" stroke="#888" stroke-width="0.8"/>
<line x1="213.79999999999998" y1="352.2" x2="213.79999999999998" y2="358.6" stroke="#888" stroke-width="0.8"/>
<rect x="282.7" y="349.5" width="191" height="12" fill="#363636"/>
<line x1="282.7" y1="409.3" x2="473.7" y2="409.3" stroke="#3d3d3d" stroke-width="0.8" stroke-dasharray="2.2,2.2"/>
<line x1="282.7" y1="361.2" x2="473.7" y2="361.2" stroke="#3d3d3d" stroke-width="0.8" stroke-dasharray="2.2,2.2"/>
<line x1="337.6" y1="361.5" x2="337.6" y2="457.4" stroke="#3d3d3d" stroke-width="0.8" stroke-dasharray="2.2,2.2"/>
<line x1="391.1" y1="361.5" x2="391.1" y2="457.4" stroke="#3d3d3d" stroke-width="0.8" stroke-dasharray="2.2,2.2"/>
<line x1="444.5" y1="361.5" x2="444.5" y2="457.4" stroke="#3d3d3d" stroke-width="0.8" stroke-dasharray="2.2,2.2"/>
<rect x="283.50" y="451.05" width="1.86" height="6.35" fill="#94700f"/>
<rect x="283.95" y="451.05" width="0.95" height="6.35" fill="#ffab08"/>
<rect x="283.50" y="451.05" width="1.86" height="0.8" fill="#f2a30c"/>
<rect x="285.56" y="455.48" width="1.86" height="1.92" fill="#94700f"/>
<rect x="286.01" y="455.48" width="0.95" height="1.92" fill="#ffab08"/>
<rect x="287.61" y="456.73" width="1.86" height="0.67" fill="#94700f"/>
<rect x="288.06" y="456.73" width="0.95" height="0.67" fill="#ffab08"/>
<rect x="289.67" y="454.51" width="1.86" height="2.89" fill="#94700f"/>
<rect x="290.12" y="454.51" width="0.95" height="2.89" fill="#ffab08"/>
<rect x="289.67" y="454.51" width="1.86" height="0.8" fill="#f2a30c"/>
<rect x="291.72" y="455.48" width="1.86" height="1.92" fill="#94700f"/>
<rect x="292.17" y="455.48" width="0.95" height="1.92" fill="#ffab08"/>
<rect x="293.78" y="456.73" width="1.86" height="0.67" fill="#94700f"/>
<rect x="294.23" y="456.73" width="0.95" height="0.67" fill="#ffab08"/>
<rect x="295.84" y="456.73" width="1.86" height="0.67" fill="#94700f"/>
<rect x="296.29" y="456.73" width="0.95" height="0.67" fill="#ffab08"/>
<rect x="297.89" y="452.40" width="1.86" height="5.00" fill="#94700f"/>
<rect x="298.34" y="452.40" width="0.95" height="5.00" fill="#ffab08"/>
<rect x="297.89" y="452.40" width="1.86" height="0.8" fill="#f2a30c"/>
<rect x="299.95" y="456.73" width="1.86" height="0.67" fill="#94700f"/>
<rect x="300.40" y="456.73" width="0.95" height="0.67" fill="#ffab08"/>
<rect x="302.00" y="455.48" width="1.86" height="1.92" fill="#94700f"/>
<rect x="302.45" y="455.48" width="0.95" height="1.92" fill="#ffab08"/>
<rect x="304.06" y="454.51" width="1.86" height="2.89" fill="#94700f"/>
<rect x="304.51" y="454.51" width="0.95" height="2.89" fill="#ffab08"/>
<rect x="304.06" y="454.51" width="1.86" height="0.8" fill="#f2a30c"/>
<rect x="306.12" y="454.13" width="1.86" height="3.27" fill="#94700f"/>
<rect x="306.57" y="454.13" width="0.95" height="3.27" fill="#ffab08"/>
<rect x="306.12" y="454.13" width="1.86" height="0.8" fill="#f2a30c"/>
<rect x="308.17" y="454.80" width="1.86" height="2.60" fill="#94700f"/>
<rect x="308.62" y="454.80" width="0.95" height="2.60" fill="#ffab08"/>
<rect x="308.17" y="454.80" width="1.86" height="0.8" fill="#f2a30c"/>
<rect x="310.23" y="452.40" width="1.86" height="5.00" fill="#94700f"/>
<rect x="310.68" y="452.40" width="0.95" height="5.00" fill="#ffab08"/>
<rect x="310.23" y="452.40" width="1.86" height="0.8" fill="#f2a30c"/>
<rect x="312.28" y="455.48" width="1.86" height="1.92" fill="#94700f"/>
<rect x="312.73" y="455.48" width="0.95" height="1.92" fill="#ffab08"/>
<rect x="314.34" y="454.51" width="1.86" height="2.89" fill="#94700f"/>
<rect x="314.79" y="454.51" width="0.95" height="2.89" fill="#ffab08"/>
<rect x="314.34" y="454.51" width="1.86" height="0.8" fill="#f2a30c"/>
<rect x="316.40" y="451.92" width="1.86" height="5.48" fill="#94700f"/>
<rect x="316.85" y="451.92" width="0.95" height="5.48" fill="#ffab08"/>
<rect x="316.40" y="451.92" width="1.86" height="0.8" fill="#f2a30c"/>
<rect x="318.45" y="451.05" width="1.86" height="6.35" fill="#94700f"/>
<rect x="318.90" y="451.05" width="0.95" height="6.35" fill="#ffab08"/>
<rect x="318.45" y="451.05" width="1.86" height="0.8" fill="#f2a30c"/>
<rect x="320.51" y="440.37" width="1.86" height="17.03" fill="#94700f"/>
<rect x="320.96" y="440.37" width="0.95" height="17.03" fill="#ffab08"/>
<rect x="320.51" y="440.37" width="1.86" height="0.8" fill="#f2a30c"/>
<rect x="322.56" y="435.47" width="1.86" height="21.93" fill="#94700f"/>
<rect x="323.01" y="435.47" width="0.95" height="21.93" fill="#ffab08"/>
<rect x="322.56" y="435.47" width="1.86" height="0.8" fill="#f2a30c"/>
<rect x="324.62" y="439.31" width="1.86" height="18.09" fill="#94700f"/>
<rect x="325.07" y="439.31" width="0.95" height="18.09" fill="#ffab08"/>
<rect x="324.62" y="439.31" width="1.86" height="0.8" fill="#f2a30c"/>
<rect x="326.68" y="425.65" width="1.86" height="31.75" fill="#94700f"/>
<rect x="327.13" y="425.65" width="0.95" height="31.75" fill="#ffab08"/>
<rect x="326.68" y="425.65" width="1.86" height="0.8" fill="#f2a30c"/>
<rect x="328.73" y="424.31" width="1.86" height="33.09" fill="#94700f"/>
<rect x="329.18" y="424.31" width="0.95" height="33.09" fill="#ffab08"/>
<rect x="328.73" y="424.31" width="1.86" height="0.8" fill="#f2a30c"/>
<rect x="330.79" y="427.77" width="1.86" height="29.63" fill="#94700f"/>
<rect x="331.24" y="427.77" width="0.95" height="29.63" fill="#ffab08"/>
<rect x="330.79" y="427.77" width="1.86" height="0.8" fill="#f2a30c"/>
<rect x="332.84" y="406.41" width="1.86" height="50.99" fill="#94700f"/>
<rect x="333.29" y="406.41" width="0.95" height="50.99" fill="#ffab08"/>
<rect x="332.84" y="406.41" width="1.86" height="0.8" fill="#f2a30c"/>
<rect x="334.90" y="408.34" width="1.86" height="49.06" fill="#94700f"/>
<rect x="335.35" y="408.34" width="0.95" height="49.06" fill="#ffab08"/>
<rect x="334.90" y="408.34" width="1.86" height="0.8" fill="#f2a30c"/>
<rect x="336.96" y="403.53" width="1.86" height="53.87" fill="#94700f"/>
<rect x="337.41" y="403.53" width="0.95" height="53.87" fill="#ffab08"/>
<rect x="336.96" y="403.53" width="1.86" height="0.8" fill="#f2a30c"/>
<rect x="339.01" y="403.53" width="1.86" height="53.87" fill="#94700f"/>
<rect x="339.46" y="403.53" width="0.95" height="53.87" fill="#ffab08"/>
<rect x="339.01" y="403.53" width="1.86" height="0.8" fill="#f2a30c"/>
<rect x="341.07" y="394.20" width="1.86" height="63.20" fill="#94700f"/>
<rect x="341.52" y="394.20" width="0.95" height="63.20" fill="#ffab08"/>
<rect x="341.07" y="394.20" width="1.86" height="0.8" fill="#f2a30c"/>
<rect x="343.12" y="398.04" width="1.86" height="59.36" fill="#94700f"/>
<rect x="343.57" y="398.04" width="0.95" height="59.36" fill="#ffab08"/>
<rect x="343.12" y="398.04" width="1.86" height="0.8" fill="#f2a30c"/>
<rect x="345.18" y="384.29" width="1.86" height="73.11" fill="#94700f"/>
<rect x="345.63" y="384.29" width="0.95" height="73.11" fill="#ffab08"/>
<rect x="345.18" y="384.29" width="1.86" height="0.8" fill="#f2a30c"/>
<rect x="347.24" y="396.51" width="1.86" height="60.89" fill="#94700f"/>
<rect x="347.69" y="396.51" width="0.95" height="60.89" fill="#ffab08"/>
<rect x="347.24" y="396.51" width="1.86" height="0.8" fill="#f2a30c"/>
<rect x="349.29" y="397.56" width="1.86" height="59.84" fill="#94700f"/>
<rect x="349.74" y="397.56" width="0.95" height="59.84" fill="#ffab08"/>
<rect x="349.29" y="397.56" width="1.86" height="0.8" fill="#f2a30c"/>
<rect x="351.35" y="396.51" width="1.86" height="60.89" fill="#94700f"/>
<rect x="351.80" y="396.51" width="0.95" height="60.89" fill="#ffab08"/>
<rect x="351.35" y="396.51" width="1.86" height="0.8" fill="#f2a30c"/>
<rect x="353.40" y="387.27" width="1.86" height="70.13" fill="#94700f"/>
<rect x="353.85" y="387.27" width="0.95" height="70.13" fill="#ffab08"/>
<rect x="353.40" y="387.27" width="1.86" height="0.8" fill="#f2a30c"/>
<rect x="355.46" y="398.81" width="1.86" height="58.59" fill="#94700f"/>
<rect x="355.91" y="398.81" width="0.95" height="58.59" fill="#ffab08"/>
<rect x="355.46" y="398.81" width="1.86" height="0.8" fill="#f2a30c"/>
<rect x="357.52" y="408.05" width="1.86" height="49.35" fill="#94700f"/>
<rect x="357.97" y="408.05" width="0.95" height="49.35" fill="#ffab08"/>
<rect x="357.52" y="408.05" width="1.86" height="0.8" fill="#f2a30c"/>
<rect x="359.57" y="403.53" width="1.86" height="53.87" fill="#94700f"/>
<rect x="360.02" y="403.53" width="0.95" height="53.87" fill="#ffab08"/>
<rect x="359.57" y="403.53" width="1.86" height="0.8" fill="#f2a30c"/>
<rect x="361.63" y="399.68" width="1.86" height="57.72" fill="#94700f"/>
<rect x="362.08" y="399.68" width="0.95" height="57.72" fill="#ffab08"/>
<rect x="361.63" y="399.68" width="1.86" height="0.8" fill="#f2a30c"/>
<rect x="363.68" y="399.68" width="1.86" height="57.72" fill="#94700f"/>
<rect x="364.13" y="399.68" width="0.95" height="57.72" fill="#ffab08"/>
<rect x="363.68" y="399.68" width="1.86" height="0.8" fill="#f2a30c"/>
<rect x="365.74" y="403.53" width="1.86" height="53.87" fill="#94700f"/>
<rect x="366.19" y="403.53" width="0.95" height="53.87" fill="#ffab08"/>
<rect x="365.74" y="403.53" width="1.86" height="0.8" fill="#f2a30c"/>
<rect x="367.80" y="398.04" width="1.86" height="59.36" fill="#94700f"/>
<rect x="368.25" y="398.04" width="0.95" height="59.36" fill="#ffab08"/>
<rect x="367.80" y="398.04" width="1.86" height="0.8" fill="#f2a30c"/>
<rect x="369.85" y="387.27" width="1.86" height="70.13" fill="#94700f"/>
<rect x="370.30" y="387.27" width="0.95" height="70.13" fill="#ffab08"/>
<rect x="369.85" y="387.27" width="1.86" height="0.8" fill="#f2a30c"/>
<rect x="371.91" y="396.51" width="1.86" height="60.89" fill="#94700f"/>
<rect x="372.36" y="396.51" width="0.95" height="60.89" fill="#ffab08"/>
<rect x="371.91" y="396.51" width="1.86" height="0.8" fill="#f2a30c"/>
<rect x="373.96" y="413.15" width="1.86" height="44.25" fill="#94700f"/>
<rect x="374.41" y="413.15" width="0.95" height="44.25" fill="#ffab08"/>
<rect x="373.96" y="413.15" width="1.86" height="0.8" fill="#f2a30c"/>
<rect x="376.02" y="390.35" width="1.86" height="67.05" fill="#94700f"/>
<rect x="376.47" y="390.35" width="0.95" height="67.05" fill="#ffab08"/>
<rect x="376.02" y="390.35" width="1.86" height="0.8" fill="#f2a30c"/>
<rect x="378.08" y="398.43" width="1.86" height="58.97" fill="#94700f"/>
<rect x="378.53" y="398.43" width="0.95" height="58.97" fill="#ffab08"/>
<rect x="378.08" y="398.43" width="1.86" height="0.8" fill="#f2a30c"/>
<rect x="380.13" y="391.50" width="1.86" height="65.90" fill="#94700f"/>
<rect x="380.58" y="391.50" width="0.95" height="65.90" fill="#ffab08"/>
<rect x="380.13" y="391.50" width="1.86" height="0.8" fill="#f2a30c"/>
<rect x="382.19" y="394.10" width="1.86" height="63.30" fill="#94700f"/>
<rect x="382.64" y="394.10" width="0.95" height="63.30" fill="#ffab08"/>
<rect x="382.19" y="394.10" width="1.86" height="0.8" fill="#f2a30c"/>
<rect x="384.24" y="393.23" width="1.86" height="64.17" fill="#94700f"/>
<rect x="384.69" y="393.23" width="0.95" height="64.17" fill="#ffab08"/>
<rect x="384.24" y="393.23" width="1.86" height="0.8" fill="#f2a30c"/>
<rect x="386.30" y="406.22" width="1.86" height="51.18" fill="#94700f"/>
<rect x="386.75" y="406.22" width="0.95" height="51.18" fill="#ffab08"/>
<rect x="386.30" y="406.22" width="1.86" height="0.8" fill="#f2a30c"/>
<rect x="388.36" y="402.37" width="1.86" height="55.03" fill="#94700f"/>
<rect x="388.81" y="402.37" width="0.95" height="55.03" fill="#ffab08"/>
<rect x="388.36" y="402.37" width="1.86" height="0.8" fill="#f2a30c"/>
<rect x="390.41" y="409.68" width="1.86" height="47.72" fill="#94700f"/>
<rect x="390.86" y="409.68" width="0.95" height="47.72" fill="#ffab08"/>
<rect x="390.41" y="409.68" width="1.86" height="0.8" fill="#f2a30c"/>
<rect x="392.47" y="404.49" width="1.86" height="52.91" fill="#94700f"/>
<rect x="392.92" y="404.49" width="0.95" height="52.91" fill="#ffab08"/>
<rect x="392.47" y="404.49" width="1.86" height="0.8" fill="#f2a30c"/>
<rect x="394.52" y="414.49" width="1.86" height="42.91" fill="#94700f"/>
<rect x="394.97" y="414.49" width="0.95" height="42.91" fill="#ffab08"/>
<rect x="394.52" y="414.49" width="1.86" height="0.8" fill="#f2a30c"/>
<rect x="396.58" y="416.23" width="1.86" height="41.17" fill="#94700f"/>
<rect x="397.03" y="416.23" width="0.95" height="41.17" fill="#ffab08"/>
<rect x="396.58" y="416.23" width="1.86" height="0.8" fill="#f2a30c"/>
<rect x="398.64" y="404.49" width="1.86" height="52.91" fill="#94700f"/>
<rect x="399.09" y="404.49" width="0.95" height="52.91" fill="#ffab08"/>
<rect x="398.64" y="404.49" width="1.86" height="0.8" fill="#f2a30c"/>
<rect x="400.69" y="416.23" width="1.86" height="41.17" fill="#94700f"/>
<rect x="401.14" y="416.23" width="0.95" height="41.17" fill="#ffab08"/>
<rect x="400.69" y="416.23" width="1.86" height="0.8" fill="#f2a30c"/>
<rect x="402.75" y="407.57" width="1.86" height="49.83" fill="#94700f"/>
<rect x="403.20" y="407.57" width="0.95" height="49.83" fill="#ffab08"/>
<rect x="402.75" y="407.57" width="1.86" height="0.8" fill="#f2a30c"/>
<rect x="404.80" y="420.36" width="1.86" height="37.04" fill="#94700f"/>
<rect x="405.25" y="420.36" width="0.95" height="37.04" fill="#ffab08"/>
<rect x="404.80" y="420.36" width="1.86" height="0.8" fill="#f2a30c"/>
<rect x="406.86" y="425.46" width="1.86" height="31.94" fill="#94700f"/>
<rect x="407.31" y="425.46" width="0.95" height="31.94" fill="#ffab08"/>
<rect x="406.86" y="425.46" width="1.86" height="0.8" fill="#f2a30c"/>
<rect x="408.92" y="421.71" width="1.86" height="35.69" fill="#94700f"/>
<rect x="409.37" y="421.71" width="0.95" height="35.69" fill="#ffab08"/>
<rect x="408.92" y="421.71" width="1.86" height="0.8" fill="#f2a30c"/>
<rect x="410.97" y="431.23" width="1.86" height="26.17" fill="#94700f"/>
<rect x="411.42" y="431.23" width="0.95" height="26.17" fill="#ffab08"/>
<rect x="410.97" y="431.23" width="1.86" height="0.8" fill="#f2a30c"/>
<rect x="413.03" y="432.97" width="1.86" height="24.43" fill="#94700f"/>
<rect x="413.48" y="432.97" width="0.95" height="24.43" fill="#ffab08"/>
<rect x="413.03" y="432.97" width="1.86" height="0.8" fill="#f2a30c"/>
<rect x="415.08" y="420.46" width="1.86" height="36.94" fill="#94700f"/>
<rect x="415.53" y="420.46" width="0.95" height="36.94" fill="#ffab08"/>
<rect x="415.08" y="420.46" width="1.86" height="0.8" fill="#f2a30c"/>
<rect x="417.14" y="434.12" width="1.86" height="23.28" fill="#94700f"/>
<rect x="417.59" y="434.12" width="0.95" height="23.28" fill="#ffab08"/>
<rect x="417.14" y="434.12" width="1.86" height="0.8" fill="#f2a30c"/>
<rect x="419.20" y="428.64" width="1.86" height="28.76" fill="#94700f"/>
<rect x="419.65" y="428.64" width="0.95" height="28.76" fill="#ffab08"/>
<rect x="419.20" y="428.64" width="1.86" height="0.8" fill="#f2a30c"/>
<rect x="421.25" y="429.98" width="1.86" height="27.42" fill="#94700f"/>
<rect x="421.70" y="429.98" width="0.95" height="27.42" fill="#ffab08"/>
<rect x="421.25" y="429.98" width="1.86" height="0.8" fill="#f2a30c"/>
<rect x="423.31" y="432.97" width="1.86" height="24.43" fill="#94700f"/>
<rect x="423.76" y="432.97" width="0.95" height="24.43" fill="#ffab08"/>
<rect x="423.31" y="432.97" width="1.86" height="0.8" fill="#f2a30c"/>
<rect x="425.36" y="438.16" width="1.86" height="19.24" fill="#94700f"/>
<rect x="425.81" y="438.16" width="0.95" height="19.24" fill="#ffab08"/>
<rect x="425.36" y="438.16" width="1.86" height="0.8" fill="#f2a30c"/>
<rect x="427.42" y="436.33" width="1.86" height="21.07" fill="#94700f"/>
<rect x="427.87" y="436.33" width="0.95" height="21.07" fill="#ffab08"/>
<rect x="427.42" y="436.33" width="1.86" height="0.8" fill="#f2a30c"/>
<rect x="429.48" y="432.97" width="1.86" height="24.43" fill="#94700f"/>
<rect x="429.93" y="432.97" width="0.95" height="24.43" fill="#ffab08"/>
<rect x="429.48" y="432.97" width="1.86" height="0.8" fill="#f2a30c"/>
<rect x="431.53" y="435.47" width="1.86" height="21.93" fill="#94700f"/>
<rect x="431.98" y="435.47" width="0.95" height="21.93" fill="#ffab08"/>
<rect x="431.53" y="435.47" width="1.86" height="0.8" fill="#f2a30c"/>
<rect x="433.59" y="445.86" width="1.86" height="11.54" fill="#94700f"/>
<rect x="434.04" y="445.86" width="0.95" height="11.54" fill="#ffab08"/>
<rect x="433.59" y="445.86" width="1.86" height="0.8" fill="#f2a30c"/>
<rect x="435.64" y="445.86" width="1.86" height="11.54" fill="#94700f"/>
<rect x="436.09" y="445.86" width="0.95" height="11.54" fill="#ffab08"/>
<rect x="435.64" y="445.86" width="1.86" height="0.8" fill="#f2a30c"/>
<rect x="437.70" y="437.58" width="1.86" height="19.82" fill="#94700f"/>
<rect x="438.15" y="437.58" width="0.95" height="19.82" fill="#ffab08"/>
<rect x="437.70" y="437.58" width="1.86" height="0.8" fill="#f2a30c"/>
<rect x="439.76" y="448.45" width="1.86" height="8.95" fill="#94700f"/>
<rect x="440.21" y="448.45" width="0.95" height="8.95" fill="#ffab08"/>
<rect x="439.76" y="448.45" width="1.86" height="0.8" fill="#f2a30c"/>
<rect x="441.81" y="443.26" width="1.86" height="14.14" fill="#94700f"/>
<rect x="442.26" y="443.26" width="0.95" height="14.14" fill="#ffab08"/>
<rect x="441.81" y="443.26" width="1.86" height="0.8" fill="#f2a30c"/>
<rect x="443.87" y="451.05" width="1.86" height="6.35" fill="#94700f"/>
<rect x="444.32" y="451.05" width="0.95" height="6.35" fill="#ffab08"/>
<rect x="443.87" y="451.05" width="1.86" height="0.8" fill="#f2a30c"/>
<rect x="445.92" y="452.40" width="1.86" height="5.00" fill="#94700f"/>
<rect x="446.37" y="452.40" width="0.95" height="5.00" fill="#ffab08"/>
<rect x="445.92" y="452.40" width="1.86" height="0.8" fill="#f2a30c"/>
<rect x="447.98" y="452.78" width="1.86" height="4.62" fill="#94700f"/>
<rect x="448.43" y="452.78" width="0.95" height="4.62" fill="#ffab08"/>
<rect x="447.98" y="452.78" width="1.86" height="0.8" fill="#f2a30c"/>
<rect x="450.04" y="451.34" width="1.86" height="6.06" fill="#94700f"/>
<rect x="450.49" y="451.34" width="0.95" height="6.06" fill="#ffab08"/>
<rect x="450.04" y="451.34" width="1.86" height="0.8" fill="#f2a30c"/>
<rect x="452.09" y="452.01" width="1.86" height="5.39" fill="#94700f"/>
<rect x="452.54" y="452.01" width="0.95" height="5.39" fill="#ffab08"/>
<rect x="452.09" y="452.01" width="1.86" height="0.8" fill="#f2a30c"/>
<rect x="454.15" y="454.13" width="1.86" height="3.27" fill="#94700f"/>
<rect x="454.60" y="454.13" width="0.95" height="3.27" fill="#ffab08"/>
<rect x="454.15" y="454.13" width="1.86" height="0.8" fill="#f2a30c"/>
<rect x="456.20" y="454.80" width="1.86" height="2.60" fill="#94700f"/>
<rect x="456.65" y="454.80" width="0.95" height="2.60" fill="#ffab08"/>
<rect x="456.20" y="454.80" width="1.86" height="0.8" fill="#f2a30c"/>
<rect x="458.26" y="454.80" width="1.86" height="2.60" fill="#94700f"/>
<rect x="458.71" y="454.80" width="0.95" height="2.60" fill="#ffab08"/>
<rect x="458.26" y="454.80" width="1.86" height="0.8" fill="#f2a30c"/>
<rect x="460.32" y="456.15" width="1.86" height="1.25" fill="#94700f"/>
<rect x="460.77" y="456.15" width="0.95" height="1.25" fill="#ffab08"/>
<rect x="462.37" y="454.80" width="1.86" height="2.60" fill="#94700f"/>
<rect x="462.82" y="454.80" width="0.95" height="2.60" fill="#ffab08"/>
<rect x="462.37" y="454.80" width="1.86" height="0.8" fill="#f2a30c"/>
<rect x="464.43" y="455.28" width="1.86" height="2.12" fill="#94700f"/>
<rect x="464.88" y="455.28" width="0.95" height="2.12" fill="#ffab08"/>
<rect x="464.43" y="455.28" width="1.86" height="0.8" fill="#f2a30c"/>
<rect x="466.48" y="455.28" width="1.86" height="2.12" fill="#94700f"/>
<rect x="466.93" y="455.28" width="0.95" height="2.12" fill="#ffab08"/>
<rect x="466.48" y="455.28" width="1.86" height="0.8" fill="#f2a30c"/>
<rect x="468.54" y="456.73" width="1.86" height="0.67" fill="#94700f"/>
<rect x="468.99" y="456.73" width="0.95" height="0.67" fill="#ffab08"/>
<rect x="470.60" y="456.73" width="1.86" height="0.67" fill="#94700f"/>
<rect x="471.05" y="456.73" width="0.95" height="0.67" fill="#ffab08"/>
<rect x="472.65" y="456.90" width="1.86" height="0.50" fill="#94700f"/>
<rect x="473.10" y="456.90" width="0.95" height="0.50" fill="#ffab08"/>
<line x1="282.7" y1="361.5" x2="282.7" y2="457.4" stroke="#6a6a6a" stroke-width="1"/>
<line x1="282.7" y1="457.4" x2="473.7" y2="457.4" stroke="#6a6a6a" stroke-width="1"/>
<line x1="279.7" y1="457.4" x2="282.7" y2="457.4" stroke="#6a6a6a" stroke-width="0.8"/>
<text x="274.5" y="460.0" font-size="7" fill="#c4c4c4" text-anchor="end">0</text>
<line x1="279.7" y1="409.3" x2="282.7" y2="409.3" stroke="#6a6a6a" stroke-width="0.8"/>
<text x="274.5" y="411.9" font-size="7" fill="#c4c4c4" text-anchor="end">50</text>
<line x1="279.7" y1="361.2" x2="282.7" y2="361.2" stroke="#6a6a6a" stroke-width="0.8"/>
<text x="274.5" y="363.8" font-size="7" fill="#c4c4c4" text-anchor="end">100</text>
<line x1="282.7" y1="457.4" x2="282.7" y2="460.4" stroke="#6a6a6a" stroke-width="0.8"/>
<text x="283.4" y="474.2" font-size="7.1" fill="#c4c4c4" text-anchor="middle">0 años</text>
<line x1="338.2" y1="457.4" x2="338.2" y2="460.4" stroke="#6a6a6a" stroke-width="0.8"/>
<text x="338.9" y="474.2" font-size="7.1" fill="#c4c4c4" text-anchor="middle">27 años</text>
<line x1="391.7" y1="457.4" x2="391.7" y2="460.4" stroke="#6a6a6a" stroke-width="0.8"/>
<text x="392.4" y="474.2" font-size="7.1" fill="#c4c4c4" text-anchor="middle">53 años</text>
<line x1="445.1" y1="457.4" x2="445.1" y2="460.4" stroke="#6a6a6a" stroke-width="0.8"/>
<text x="445.8" y="474.2" font-size="7.1" fill="#c4c4c4" text-anchor="middle">79 años</text>
<circle cx="282.7" cy="355.4" r="6.4" fill="#fff"/>
<line x1="281.5" y1="352.2" x2="281.5" y2="358.6" stroke="#888" stroke-width="0.8"/>
<line x1="283.9" y1="352.2" x2="283.9" y2="358.6" stroke="#888" stroke-width="0.8"/>
<circle cx="473.7" cy="355.4" r="6.4" fill="#fff"/>
<line x1="472.5" y1="352.2" x2="472.5" y2="358.6" stroke="#888" stroke-width="0.8"/>
<line x1="474.9" y1="352.2" x2="474.9" y2="358.6" stroke="#888" stroke-width="0.8"/>
</svg>
<div class="t" id="maptitle" style="right:12.2px;top:59.6px;font-size:10.17px;color:#d0d0d0"><b style="color:#e0e0e0">Tasas de infección (COVID-19)</b> - Mapa interactivo</div>
<svg width="1024" height="551" viewBox="0 0 1024 551"><circle cx="1016.8" cy="53.9" r="6.3" fill="#2a2a2a" stroke="#8a8a8a" stroke-width="0.9"/><path d="M1013.4,52.2V50.5H1015.1 M1018.5,50.5H1020.2V52.2 M1020.2,55.6V57.3H1018.5 M1015.1,57.3H1013.4V55.6" fill="none" stroke="#9a9a9a" stroke-width="0.9"/></svg>
<div class="t" id="linetitle" style="right:891.8px;top:317.6px;font-size:10.6px;color:#d6d6d6"><span style="color:#eda515;font-size:10.3px;-webkit-text-stroke:0.3px #eda515">Casos positivos</span> <span style="color:#777">&amp;</span> Defunciones</div>
<div class="t" id="agetitle" style="left:248.6px;top:317.6px;font-size:10.6px;color:#c4c4c4"><span style="color:#eda515;font-size:10.3px;-webkit-text-stroke:0.3px #eda515">Casos positivos</span> / Edad</div>
<div class="t" id="strip" style="left:110px;top:488.2px;font-size:9.0px;color:#c8c8c8;transform:translateX(-50%)">Casos positivos</div>
<svg width="1024" height="551" viewBox="0 0 1024 551"><path d="M4.6,489 L0.4,493 L4.6,497 Z M215.6,489 L219.8,493 L215.6,497 Z" fill="none" stroke="#b0b0b0" stroke-width="0.9"/></svg>
<div class="abs" style="left:254px;top:483.4px;width:39.2px;height:19.2px;background:#222;border-bottom:1.6px solid #2b8fd9"></div>
<div class="t" id="tab1" style="left:273.6px;top:488.2px;font-size:9.4px;color:#d8d8d8;transform:translateX(-50%)">Edad</div>
<div class="abs" style="left:297.3px;top:483.4px;width:48.6px;height:19.2px;background:#0c0c0c;border:1px solid #333"></div>
<div class="t" id="tab2" style="left:321.6px;top:488.2px;font-size:9.4px;color:#d8d8d8;transform:translateX(-50%)">Género</div>
<div class="t" id="foot1" style="right:713.7px;top:519.7px;font-size:8.61px;color:#d6d6d6;font-weight:bold">Comisión Nacional para el Conocimiento y Uso de la Biodiversidad <span style="font-weight:normal">(<a>CONABIO</a>)</span></div>
<div class="t" id="foot2" style="right:727.3px;top:532.2px;font-size:8.7px;color:#d6d6d6"><b>Fuentes de datos:</b> <a>Secretaría de Salud</a> (2020), <a>INEGI</a> (2010), <a>CONAPO</a> (2019)</div>
<div class="t" id="mapfoot" style="left:511px;top:448px;font-size:10.53px;color:#d0d0d0">(para mas información de clic sobre los estados)</div>
<div class="t" id="c1t" style="left:587px;top:480.4px;font-size:10.4px;color:#c8c8c8;transform:translateX(-50%)">Casos confirmados</div>
<div class="t" id="c1n" style="left:587px;top:494.3px;font-size:27px;letter-spacing:0;color:#f5a30a;transform:translateX(-50%)">2,785</div>
<div class="t" id="c1s" style="left:587px;top:524.4px;font-size:10.2px;letter-spacing:0.2px;color:#c8c8c8;transform:translateX(-50%)"><b>+ 346 (14.2%)</b> al día anterior</div>
<div class="t" id="c2t" style="left:760.5px;top:480.4px;font-size:10.4px;color:#c8c8c8;transform:translateX(-50%)">Defunciones</div>
<div class="t" id="c2n" style="left:760.5px;top:494.3px;font-size:27px;letter-spacing:-1.9px;color:#ececec;transform:translateX(-50%)">141</div>
<div class="t" id="c2s" style="left:760.5px;top:524.4px;font-size:10.2px;letter-spacing:0.2px;color:#c8c8c8;transform:translateX(-50%)"><b>+ 16 (12.8%)</b> al día anterior</div>
<div class="t" id="c3t" style="left:929.2px;top:480.4px;font-size:10.4px;color:#c8c8c8;transform:translateX(-50%)">Pruebas confirmadas<sup style="font-size:6px;vertical-align:top;line-height:1">1</sup></div>
<div class="t" id="c3n" style="left:929.2px;top:494.3px;font-size:27px;letter-spacing:0;color:#0fb9f2;transform:translateX(-50%)">17,884</div>
<div class="t" id="c3s" style="left:929.2px;top:524.4px;font-size:10.2px;letter-spacing:0.2px;color:#c8c8c8;transform:translateX(-50%)"><b>+ 3,704 (26.1%)</b> al día anterior</div>
<div class="abs" style="left:851.2px;top:473.2px;width:153.8px;height:72.2px;overflow:hidden"><div class="t" id="c3f" style="left:77.6px;top:66.6px;font-size:7px;color:#aaa;transform:translateX(-50%)"><sup style="font-size:5px">1</sup>suma de casos positivos y negativos</div></div>
<div class="abs" style="left:1005.8px;top:473.2px;width:11.3px;height:71.6px;background:#ededed"></div>
<div class="abs" style="left:1008.3px;top:475.2px;width:6.2px;height:63.2px;background:#bcbcbc;border-radius:3.1px"></div>
</body></html>
